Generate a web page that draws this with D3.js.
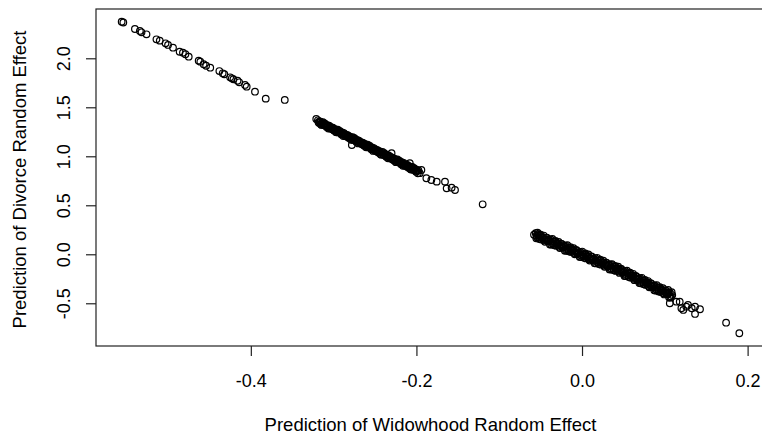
<!DOCTYPE html>
<html>
<head>
<meta charset="utf-8">
<script src="https://cdn.jsdelivr.net/npm/d3@7"></script>
<style>
html,body{margin:0;padding:0;background:#fff;}
svg{display:block;}
text{font-family:'Liberation Sans',Arial,sans-serif;fill:#000;}
</style>
</head>
<body>
<svg id="chart" width="762" height="436"></svg>
<script>
// ---- data: [widowhood prediction, divorce prediction] ----
const upperGroup = [
[-0.556,2.373],[-0.554,2.365],[-0.540,2.299],[-0.534,2.279],[-0.532,2.265],[-0.526,2.245],[-0.514,2.194],[-0.510,2.180],
[-0.503,2.153],[-0.500,2.136],[-0.494,2.108],[-0.486,2.067],[-0.482,2.057],[-0.479,2.041],[-0.475,2.016],[-0.463,1.976],
[-0.461,1.965],[-0.457,1.939],[-0.454,1.924],[-0.449,1.904],[-0.438,1.870],[-0.434,1.847],[-0.432,1.837],[-0.425,1.806],
[-0.423,1.796],[-0.421,1.786],[-0.416,1.771],[-0.414,1.755],[-0.407,1.728],[-0.405,1.710],[-0.395,1.659],[-0.382,1.588],
[-0.359,1.575]
];
const middleGroup = [
[-0.321,1.381],[-0.316,1.350],
[-0.3190,1.367],[-0.3175,1.339],[-0.3160,1.346],[-0.3145,1.320],[-0.3130,1.348],[-0.3115,1.320],[-0.3100,1.325],[-0.3085,1.299],
[-0.3070,1.304],[-0.3055,1.312],[-0.3040,1.284],[-0.3025,1.291],[-0.3010,1.291],[-0.2995,1.263],[-0.2980,1.270],[-0.2965,1.244],
[-0.2950,1.272],[-0.2935,1.244],[-0.2920,1.249],[-0.2905,1.223],[-0.2890,1.228],[-0.2875,1.236],[-0.2860,1.208],[-0.2845,1.215],
[-0.2830,1.215],[-0.2815,1.187],[-0.2800,1.194],[-0.2785,1.168],[-0.2770,1.196],[-0.2755,1.168],[-0.2740,1.173],[-0.2725,1.147],
[-0.2710,1.152],[-0.2695,1.160],[-0.2680,1.132],[-0.2665,1.140],[-0.2650,1.139],[-0.2635,1.111],[-0.2620,1.118],[-0.2605,1.092],
[-0.2590,1.120],[-0.2575,1.092],[-0.2560,1.097],[-0.2545,1.071],[-0.2530,1.076],[-0.2515,1.084],[-0.2500,1.056],[-0.2485,1.063],
[-0.2470,1.063],[-0.2455,1.035],[-0.2440,1.042],[-0.2425,1.016],[-0.2410,1.044],[-0.2395,1.016],[-0.2380,1.021],[-0.2365,0.995],
[-0.2350,1.000],[-0.2335,1.008],[-0.2320,0.980],[-0.2305,0.988],[-0.2290,0.987],[-0.2275,0.959],[-0.2260,0.967],[-0.2245,0.940],
[-0.2230,0.968],[-0.2215,0.941],[-0.2200,0.945],[-0.2185,0.919],[-0.2170,0.925],[-0.2155,0.932],[-0.2140,0.904],[-0.2125,0.912],
[-0.2110,0.911],[-0.2095,0.883],[-0.2080,0.891],[-0.2065,0.864],[-0.2050,0.892],[-0.2035,0.865],[-0.2020,0.869],[-0.2005,0.843],
[-0.1990,0.849],[-0.1975,0.856],[-0.1960,0.828],
[-0.278,1.115],[-0.230,1.031],[-0.208,0.929],[-0.194,0.860],[-0.188,0.776],[-0.182,0.758],[-0.1755,0.741],[-0.1655,0.741],
[-0.1635,0.673],[-0.1575,0.680],[-0.1534,0.656],[-0.120,0.510]
];
const middleGroupB = [
[-0.31825,1.348],[-0.31675,1.355],[-0.31525,1.325],[-0.31375,1.339],[-0.31225,1.318],[-0.31075,1.336],[-0.30925,1.312],[-0.30775,1.318],
[-0.30625,1.283],[-0.30475,1.298],[-0.30325,1.297],[-0.30175,1.276],[-0.30025,1.272],[-0.29875,1.280],[-0.29725,1.249],[-0.29575,1.263],
[-0.29425,1.243],[-0.29275,1.260],[-0.29125,1.236],[-0.28975,1.243],[-0.28825,1.207],[-0.28675,1.222],[-0.28525,1.221],[-0.28375,1.200],
[-0.28225,1.196],[-0.28075,1.204],[-0.27925,1.173],[-0.27775,1.187],[-0.27625,1.167],[-0.27475,1.184],[-0.27325,1.160],[-0.27175,1.167],
[-0.27025,1.131],[-0.26875,1.146],[-0.26725,1.145],[-0.26575,1.124],[-0.26425,1.120],[-0.26275,1.128],[-0.26125,1.097],[-0.25975,1.111],
[-0.25825,1.091],[-0.25675,1.108],[-0.25525,1.084],[-0.25375,1.091],[-0.25225,1.055],[-0.25075,1.070],[-0.24925,1.069],[-0.24775,1.048],
[-0.24625,1.044],[-0.24475,1.052],[-0.24325,1.021],[-0.24175,1.035],[-0.24025,1.015],[-0.23875,1.032],[-0.23725,1.008],[-0.23575,1.015],
[-0.23425,0.979],[-0.23275,0.994],[-0.23125,0.993],[-0.22975,0.972],[-0.22825,0.968],[-0.22675,0.976],[-0.22525,0.945],[-0.22375,0.959],
[-0.22225,0.939],[-0.22075,0.956],[-0.21925,0.932],[-0.21775,0.939],[-0.21625,0.903],[-0.21475,0.918],[-0.21325,0.917],[-0.21175,0.896],
[-0.21025,0.892],[-0.20875,0.900],[-0.20725,0.869],[-0.20575,0.883],[-0.20425,0.863],[-0.20275,0.880],[-0.20125,0.856],[-0.19975,0.863],
[-0.19825,0.827]
];
const lowerGroup = [
[-0.058,0.200],[-0.055,0.190],[-0.052,0.205],
[-0.0560,0.216],[-0.0545,0.175],[-0.0530,0.191],[-0.0515,0.156],[-0.0500,0.200],[-0.0485,0.164],[-0.0470,0.176],[-0.0455,0.141],
[-0.0440,0.153],[-0.0425,0.170],[-0.0410,0.131],[-0.0395,0.146],[-0.0380,0.152],[-0.0365,0.112],[-0.0350,0.127],[-0.0335,0.092],
[-0.0320,0.137],[-0.0305,0.100],[-0.0290,0.112],[-0.0275,0.077],[-0.0260,0.089],[-0.0245,0.106],[-0.0230,0.067],[-0.0215,0.082],
[-0.0200,0.088],[-0.0185,0.048],[-0.0170,0.063],[-0.0155,0.028],[-0.0140,0.073],[-0.0125,0.036],[-0.0110,0.048],[-0.0095,0.013],
[-0.0080,0.025],[-0.0065,0.042],[-0.0050,0.003],[-0.0035,0.018],[-0.0020,0.024],[-0.0005,-0.016],[0.0010,-0.001],[0.0025,-0.036],
[0.0040,0.009],[0.0055,-0.028],[0.0070,-0.016],[0.0085,-0.051],[0.0100,-0.039],[0.0115,-0.022],[0.0130,-0.061],[0.0145,-0.046],
[0.0160,-0.040],[0.0175,-0.080],[0.0190,-0.064],[0.0205,-0.100],[0.0220,-0.055],[0.0235,-0.091],[0.0250,-0.080],[0.0265,-0.115],
[0.0280,-0.102],[0.0295,-0.086],[0.0310,-0.125],[0.0325,-0.109],[0.0340,-0.104],[0.0355,-0.144],[0.0370,-0.128],[0.0385,-0.164],
[0.0400,-0.119],[0.0415,-0.155],[0.0430,-0.141],[0.0445,-0.177],[0.0460,-0.165],[0.0475,-0.149],[0.0490,-0.189],[0.0505,-0.175],
[0.0520,-0.170],[0.0535,-0.211],[0.0550,-0.196],[0.0565,-0.232],[0.0580,-0.188],[0.0595,-0.225],[0.0610,-0.214],[0.0625,-0.250],
[0.0640,-0.239],[0.0655,-0.223],[0.0670,-0.263],[0.0685,-0.248],[0.0700,-0.243],[0.0715,-0.284],[0.0730,-0.269],[0.0745,-0.305],
[0.0760,-0.262],[0.0775,-0.299],[0.0790,-0.288],[0.0805,-0.324],[0.0820,-0.312],[0.0835,-0.296],[0.0850,-0.336],[0.0865,-0.321],
[0.0880,-0.317],[0.0895,-0.358],[0.0910,-0.343],[0.0925,-0.379],[0.0940,-0.335],[0.0955,-0.372],[0.0970,-0.361],[0.0985,-0.397],
[0.1000,-0.386],[0.1015,-0.370],[0.1030,-0.410],[0.1045,-0.395],[0.1060,-0.390],[0.1075,-0.431],[0.1090,-0.416],
[0.104,-0.364],[0.106,-0.500],[0.114,-0.484],[0.118,-0.484],[0.120,-0.551],[0.1223,-0.568],[0.126,-0.535],[0.128,-0.517],
[0.1325,-0.551],[0.1365,-0.535],[0.1365,-0.609],[0.1425,-0.561],[0.174,-0.698],[0.190,-0.806]
];
const lowerGroupB = [
[-0.05525,0.163],[-0.05375,0.220],[-0.05225,0.174],[-0.05075,0.192],[-0.04925,0.150],[-0.04775,0.170],[-0.04625,0.191],[-0.04475,0.128],
[-0.04325,0.168],[-0.04175,0.135],[-0.04025,0.142],[-0.03875,0.100],[-0.03725,0.099],[-0.03575,0.156],[-0.03425,0.111],[-0.03275,0.128],
[-0.03125,0.086],[-0.02975,0.107],[-0.02825,0.127],[-0.02675,0.064],[-0.02525,0.105],[-0.02375,0.071],[-0.02225,0.078],[-0.02075,0.037],
[-0.01925,0.035],[-0.01775,0.092],[-0.01625,0.047],[-0.01475,0.064],[-0.01325,0.022],[-0.01175,0.043],[-0.01025,0.063],[-0.00875,0.000],
[-0.00725,0.041],[-0.00575,0.007],[-0.00425,0.014],[-0.00275,-0.027],[-0.00125,-0.029],[0.00025,0.028],[0.00175,-0.017],[0.00325,0.000],
[0.00475,-0.042],[0.00625,-0.021],[0.00775,-0.001],[0.00925,-0.064],[0.01075,-0.023],[0.01225,-0.057],[0.01375,-0.050],[0.01525,-0.091],
[0.01675,-0.093],[0.01825,-0.036],[0.01975,-0.081],[0.02125,-0.064],[0.02275,-0.106],[0.02425,-0.085],[0.02575,-0.065],[0.02725,-0.128],
[0.02875,-0.087],[0.03025,-0.120],[0.03175,-0.114],[0.03325,-0.155],[0.03475,-0.156],[0.03625,-0.100],[0.03775,-0.145],[0.03925,-0.127],
[0.04075,-0.170],[0.04225,-0.149],[0.04375,-0.126],[0.04525,-0.190],[0.04675,-0.150],[0.04825,-0.184],[0.04975,-0.178],[0.05125,-0.221],
[0.05275,-0.223],[0.05425,-0.167],[0.05575,-0.213],[0.05725,-0.196],[0.05875,-0.239],[0.06025,-0.219],[0.06175,-0.199],[0.06325,-0.264],
[0.06475,-0.224],[0.06625,-0.258],[0.06775,-0.252],[0.06925,-0.294],[0.07075,-0.296],[0.07225,-0.240],[0.07375,-0.286],[0.07525,-0.269],
[0.07675,-0.313],[0.07825,-0.293],[0.07975,-0.273],[0.08125,-0.337],[0.08275,-0.297],[0.08425,-0.331],[0.08575,-0.325],[0.08725,-0.367],
[0.08875,-0.370],[0.09025,-0.314],[0.09175,-0.360],[0.09325,-0.343],[0.09475,-0.386],[0.09625,-0.366],[0.09775,-0.346],[0.09925,-0.410],
[0.10075,-0.371],[0.10225,-0.405],[0.10375,-0.399],[0.10525,-0.441],[0.10675,-0.443],[0.10825,-0.387]
];
const xTickValues = [-0.4, -0.2, 0.0, 0.2];
const xTickLabels = ["-0.4", "-0.2", "0.0", "0.2"];
const yTickValues = [-0.5, 0.0, 0.5, 1.0, 1.5, 2.0];
const yTickLabels = ["-0.5", "0.0", "0.5", "1.0", "1.5", "2.0"];
const xTitle = "Prediction of Widowhood Random Effect";
const yTitle = "Prediction of Divorce Random Effect";

// ---- drawing ----
const svg = d3.select("#chart");
const plotLeft = 96, plotRight = 765, plotTop = 9, plotBottom = 346;
const x = d3.scaleLinear().domain([-0.587, 0.221]).range([plotLeft, plotRight]);
const y = d3.scaleLinear().domain([-0.936, 2.503]).range([plotBottom, plotTop]);

const allPoints = upperGroup.concat(middleGroup, middleGroupB, lowerGroup, lowerGroupB);

svg.append("g")
  .selectAll("circle")
  .data(allPoints)
  .join("circle")
  .attr("cx", d => x(d[0]))
  .attr("cy", d => y(d[1]))
  .attr("r", 3.3)
  .attr("fill", "none")
  .attr("stroke", "#000")
  .attr("stroke-width", 1.2);

// box
svg.append("rect")
  .attr("x", plotLeft).attr("y", plotTop)
  .attr("width", plotRight - plotLeft).attr("height", plotBottom - plotTop)
  .attr("fill", "none").attr("stroke", "#222").attr("stroke-width", 1.2);

// x axis
const gx = svg.append("g")
  .attr("transform", `translate(0,${plotBottom})`)
  .call(d3.axisBottom(x).tickValues(xTickValues).tickSize(10)
    .tickFormat((d, i) => xTickLabels[i]));
gx.select(".domain").remove();
gx.selectAll(".tick line").attr("stroke", "#222").attr("stroke-width", 1.2);
gx.selectAll(".tick text")
  .attr("y", 41).attr("dy", null)
  .attr("font-size", 18).attr("fill", "#000")
  .attr("font-family", "'Liberation Sans',Arial,sans-serif");

// y axis
const gy = svg.append("g")
  .attr("transform", `translate(${plotLeft},0)`)
  .call(d3.axisLeft(y).tickValues(yTickValues).tickSize(10)
    .tickFormat((d, i) => yTickLabels[i]));
gy.select(".domain").remove();
gy.selectAll(".tick line").attr("stroke", "#222").attr("stroke-width", 1.2);
gy.selectAll(".tick text")
  .attr("x", null).attr("dy", null)
  .attr("transform", "translate(-26,0) rotate(-90)")
  .attr("text-anchor", "middle")
  .attr("font-size", 18).attr("fill", "#000")
  .attr("font-family", "'Liberation Sans',Arial,sans-serif");

// titles
svg.append("text")
  .attr("x", (plotLeft + plotRight) / 2).attr("y", 431)
  .attr("text-anchor", "middle").attr("font-size", 18.5)
  .text(xTitle);
svg.append("text")
  .attr("transform", `translate(25.5,${(plotTop + plotBottom) / 2 + 2}) rotate(-90)`)
  .attr("text-anchor", "middle").attr("font-size", 18.5)
  .text(yTitle);
</script>
</body>
</html>
